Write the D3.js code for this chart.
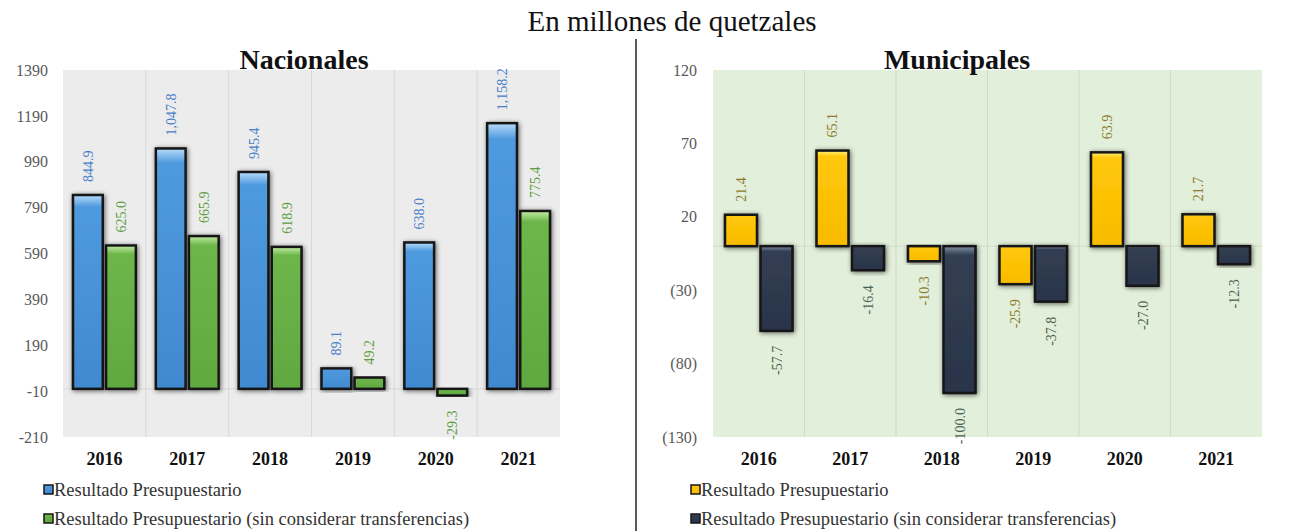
<!DOCTYPE html>
<html lang="es">
<head>
    <meta charset="UTF-8">
    <title>Resultado Presupuestario</title>
    <script src="https://d3js.org/d3.v7.min.js"></script>
    <style>
        body { margin: 0; background: #fff; }
        svg { display: block; font-family: "Liberation Serif", "DejaVu Serif", serif; }
    </style>
</head>
<body>
    <div id="chart"></div>
    <script>
        // datos (millones de quetzales)
        const years = ["2016", "2017", "2018", "2019", "2020", "2021"];
        const seriesNames = ["Resultado Presupuestario", "Resultado Presupuestario (sin considerar transferencias)"];
        const nacResultado = [844.9, 1047.8, 945.4, 89.1, 638.0, 1158.2];
        const nacSinTransf = [625.0, 665.9, 618.9, 49.2, -29.3, 775.4];
        const munResultado = [21.4, 65.1, -10.3, -25.9, 63.9, 21.7];
        const munSinTransf = [-57.7, -16.4, -100.0, -37.8, -27.0, -12.3];
        const nacTicks = [-210, -10, 190, 390, 590, 790, 990, 1190, 1390];
        const munTicks = [-130, -80, -30, 20, 70, 120];

        const W = 1313, H = 531;
        const svg = d3.select("#chart").append("svg")
            .attr("width", W)
            .attr("height", H);

        const defs = svg.append("defs");

        // sombra alrededor de las barras
        const f = defs.append("filter").attr("id", "glow")
            .attr("x", "-40%").attr("y", "-20%").attr("width", "180%").attr("height", "140%");
        f.append("feGaussianBlur").attr("in", "SourceAlpha").attr("stdDeviation", 2.5).attr("result", "b");
        f.append("feOffset").attr("in", "b").attr("dx", 1).attr("dy", 1).attr("result", "o");
        f.append("feComponentTransfer").attr("in", "o").attr("result", "s")
            .append("feFuncA").attr("type", "linear").attr("slope", 0.6);
        const m = f.append("feMerge");
        m.append("feMergeNode").attr("in", "s");
        m.append("feMergeNode").attr("in", "SourceGraphic");

        function gradient(id, light, main, dark) {
            const g = defs.append("linearGradient").attr("id", id)
                .attr("x1", 0).attr("y1", 0).attr("x2", 0).attr("y2", 1);
            g.append("stop").attr("offset", "0%").attr("stop-color", light);
            g.append("stop").attr("offset", "6%").attr("stop-color", main);
            g.append("stop").attr("offset", "100%").attr("stop-color", dark);
        }
        gradient("gBlue", "#b8dcfb", "#4f9ade", "#4189d0");
        gradient("gGreen", "#c4eea6", "#6db64a", "#60a840");
        gradient("gYellow", "#fff27a", "#ffc70a", "#f8bb00");
        gradient("gDark", "#8392a8", "#333f52", "#29344a");

        const minusFmt = d3.formatLocale({ decimal: ".", thousands: ",", grouping: [3], currency: ["", ""], minus: "-" });
        const labelFmt = minusFmt.format(",.1f");

        // titulo general
        svg.append("text")
            .attr("x", 672).attr("y", 31)
            .attr("text-anchor", "middle")
            .attr("font-size", 29)
            .attr("fill", "#111")
            .text("En millones de quetzales");

        // separador
        svg.append("line")
            .attr("x1", 636).attr("x2", 636)
            .attr("y1", 39).attr("y2", H)
            .attr("stroke", "#222").attr("stroke-width", 1.5);

        function drawPanel(cfg) {
            const g = svg.append("g");

            const x0 = d3.scaleBand().domain(years).range([cfg.left, cfg.right]).padding(0);
            const x1 = d3.scaleBand().domain([0, 1])
                .range([cfg.pad, x0.bandwidth() - cfg.pad]).paddingInner(0.1);
            const y = d3.scaleLinear().domain(cfg.domain).range([cfg.bottom, cfg.top]);

            // fondo
            g.append("rect")
                .attr("x", cfg.left).attr("y", cfg.top)
                .attr("width", cfg.right - cfg.left).attr("height", cfg.bottom - cfg.top)
                .attr("fill", cfg.bg);

            g.selectAll(".sep").data(years.slice(1)).join("line")
                .attr("x1", d => x0(d)).attr("x2", d => x0(d))
                .attr("y1", cfg.top).attr("y2", cfg.bottom)
                .attr("stroke", cfg.sepColor).attr("stroke-width", 1);

            g.append("line")
                .attr("x1", cfg.left).attr("x2", cfg.right)
                .attr("y1", y(0)).attr("y2", y(0))
                .attr("stroke", cfg.sepColor).attr("stroke-width", 1);

            // eje y
            const yAxis = d3.axisLeft(y).tickValues(cfg.ticks).tickSize(0).tickPadding(0).tickFormat(cfg.tickFmt);
            g.append("g")
                .attr("transform", `translate(${cfg.tickX},0)`)
                .call(yAxis)
                .call(a => a.select(".domain").remove())
                .selectAll("text")
                .attr("font-family", "Liberation Serif, serif")
                .attr("font-size", 16)
                .attr("fill", "#595959");

            // eje x
            const xAxis = d3.axisBottom(x0).tickSize(0).tickPadding(0);
            g.append("g")
                .attr("transform", `translate(0,${cfg.catY})`)
                .call(xAxis)
                .call(a => a.select(".domain").remove())
                .selectAll("text")
                .attr("font-family", "Liberation Serif, serif")
                .attr("font-size", 18)
                .attr("font-weight", "bold")
                .attr("fill", "#111");

            // subtitulo
            g.append("text")
                .attr("x", cfg.titleX).attr("y", 69)
                .attr("text-anchor", "middle")
                .attr("font-size", 28)
                .attr("font-weight", "bold")
                .attr("fill", "#111")
                .text(cfg.title);

            const rows = [];
            years.forEach((yr, i) => {
                cfg.series.forEach((vals, s) => rows.push({ yr, s, v: vals[i] }));
            });

            g.selectAll(".bar").data(rows).join("rect")
                .attr("x", d => x0(d.yr) + x1(d.s))
                .attr("width", x1.bandwidth())
                .attr("y", d => y(Math.max(0, d.v)))
                .attr("height", d => Math.abs(y(d.v) - y(0)))
                .attr("fill", d => `url(#${cfg.grads[d.s]})`)
                .attr("stroke", "#161616")
                .attr("stroke-width", 2.5)
                .attr("filter", "url(#glow)");

            g.selectAll(".lbl").data(rows).join("text")
                .attr("transform", d => {
                    const cx = x0(d.yr) + x1(d.s) + x1.bandwidth() / 2 + 5;
                    const cy = d.v >= 0 ? y(d.v) - 13 : y(d.v) + 15;
                    return `translate(${cx},${cy}) rotate(-90)`;
                })
                .attr("text-anchor", d => d.v >= 0 ? "start" : "end")
                .attr("font-size", 14)
                .attr("fill", d => cfg.labelColors[d.s])
                .text(d => labelFmt(d.v));

            // leyenda
            seriesNames.forEach((name, s) => {
                const ly = 490 + s * 29;
                g.append("rect")
                    .attr("x", cfg.legX).attr("y", ly - 5)
                    .attr("width", 9).attr("height", 9)
                    .attr("fill", `url(#${cfg.grads[s]})`)
                    .attr("stroke", "#161616").attr("stroke-width", 1.5);
                g.append("text")
                    .attr("x", cfg.legX + 10).attr("y", ly + 6)
                    .attr("font-size", 18.5)
                    .attr("fill", "#333")
                    .text(name);
            });
        }

        drawPanel({
            title: "Nacionales", titleX: 304,
            left: 63, right: 560, top: 70, bottom: 437, pad: 10,
            domain: [-210, 1390], ticks: nacTicks, tickX: 48,
            tickFmt: d => d,
            catY: 452,
            bg: "#ececec", sepColor: "#d8d8d8",
            series: [nacResultado, nacSinTransf],
            grads: ["gBlue", "gGreen"],
            labelColors: ["#4a80c8", "#5e9e3e"],
            legX: 44
        });

        drawPanel({
            title: "Municipales", titleX: 957,
            left: 713, right: 1262, top: 70, bottom: 437, pad: 12,
            domain: [-130, 120], ticks: munTicks, tickX: 697,
            tickFmt: d => d < 0 ? `(${-d})` : d,
            catY: 452,
            bg: "#e2efda", sepColor: "#cfdcc6",
            series: [munResultado, munSinTransf],
            grads: ["gYellow", "gDark"],
            labelColors: ["#8c7a2a", "#4a6352"],
            legX: 691
        });
    </script>
</body>
</html>
